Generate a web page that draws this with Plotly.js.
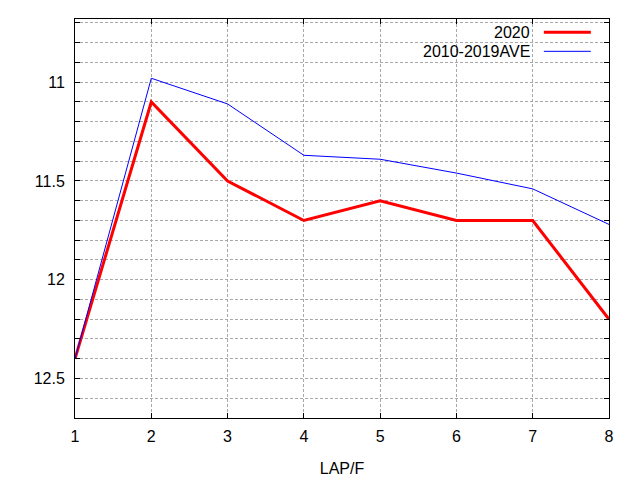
<!DOCTYPE html>
<html>
<head>
<meta charset="utf-8">
<script src="https://cdn.plot.ly/plotly-3.0.1.min.js"></script>
<style>
  body { margin: 0; }
  #chart { width: 640px; height: 480px; }
</style>
</head>
<body>
<div id="chart"></div>
<script>
// lap number (furlong) on x, lap time in seconds on y
const laps = [1, 2, 3, 4, 5, 6, 7, 8];
const time2020 = [12.4, 11.1, 11.5, 11.7, 11.6, 11.7, 11.7, 12.2];
const timeAve = [12.4, 10.98, 11.11, 11.37, 11.39, 11.46, 11.54, 11.72];
const yTicks = [11, 11.5, 12, 12.5];
const yTickText = ['11', '11.5', '12', '12.5'];
const xTicks = [1, 2, 3, 4, 5, 6, 7, 8];
const names = ['2020', '2010-2019AVE'];

async function plot_Laps(){
  const font = 'Liberation Sans, Arial, sans-serif';
  let gridDash = '3px,2px';
  let gridColor = '#a8a8a8';

  let trace2020 = {
    x: laps,
    y: time2020,
    mode: 'lines',
    type: 'scatter',
    name: names[0],
    line: {color: '#ff0000', width: 3},
  };
  let traceAve = {
    x: laps,
    y: timeAve,
    mode: 'lines',
    type: 'scatter',
    name: names[1],
    line: {color: '#0000ff', width: 1},
  };

  let layout = {
    width: 640,
    height: 480,
    margin: {l: 75, r: 31, t: 19, b: 62},
    paper_bgcolor: '#ffffff',
    plot_bgcolor: '#ffffff',
    showlegend: false,
    font: {family: font, size: 16, color: '#000000'},
    xaxis: {
      range: [1, 8],
      tickvals: xTicks,
      ticks: 'inside',
      ticklen: 5,
      tickcolor: '#000000',
      showline: true,
      linecolor: '#000000',
      linewidth: 1,
      mirror: 'allticks',
      showgrid: true,
      gridcolor: gridColor,
      griddash: gridDash,
      gridwidth: 1,
      zeroline: false,
      ticklabelstandoff: 4,
      title: {text: 'LAP/F', font: {family: font, size: 16}, standoff: 18},
    },
    yaxis: {
      range: [12.7, 10.68],
      tickvals: yTicks,
      ticktext: yTickText,
      ticks: 'inside',
      ticklen: 5,
      tickcolor: '#000000',
      showline: true,
      linecolor: '#000000',
      linewidth: 1,
      mirror: 'allticks',
      showgrid: true,
      gridcolor: gridColor,
      griddash: gridDash,
      gridwidth: 1,
      zeroline: false,
      ticklabelstandoff: 6,
      minor: {
        dtick: 0.1,
        tick0: 10.7,
        ticks: 'inside',
        ticklen: 5,
        tickcolor: '#000000',
        showgrid: true,
        gridcolor: gridColor,
        griddash: gridDash,
        gridwidth: 1,
      },
    },
    // gnuplot-style key: text right aligned, line sample on the right
    annotations: [
      {xref: 'paper', yref: 'paper', x: 0.855, y: 0.967, xanchor: 'right', yanchor: 'middle',
       text: names[0], showarrow: false, font: {family: font, size: 16}},
      {xref: 'paper', yref: 'paper', x: 0.855, y: 0.919, xanchor: 'right', yanchor: 'middle',
       text: names[1], showarrow: false, font: {family: font, size: 16}},
    ],
    shapes: [
      {type: 'line', xref: 'paper', yref: 'paper', x0: 0.878, x1: 0.966, y0: 0.967, y1: 0.967,
       line: {color: '#ff0000', width: 3}},
      {type: 'line', xref: 'paper', yref: 'paper', x0: 0.878, x1: 0.966, y0: 0.919, y1: 0.919,
       line: {color: '#0000ff', width: 1}},
    ],
  };
  let config = {staticPlot: true};
  await Plotly.newPlot('chart', [trace2020, traceAve], layout, config);
}

plot_Laps();
</script>
</body>
</html>
